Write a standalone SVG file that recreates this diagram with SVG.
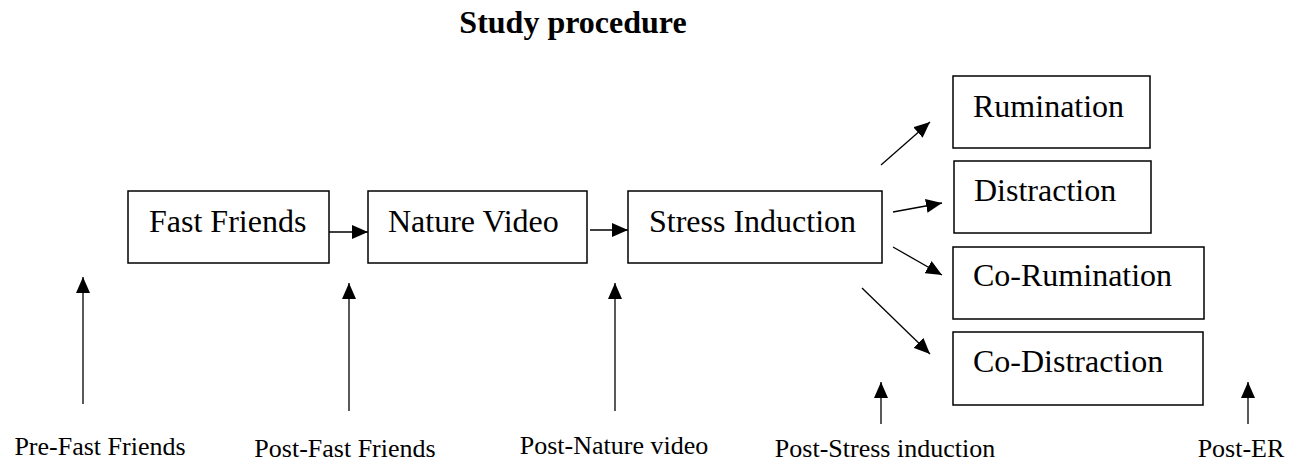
<svg xmlns="http://www.w3.org/2000/svg" width="1300" height="464" viewBox="0 0 1300 464">
  <style>
    .box { fill: #fff; stroke: #000; stroke-width: 1.5; }
    .lbl { font-family: "Liberation Serif", "Times New Roman", serif; font-size: 32px; fill: #000; }
    .cap { font-family: "Liberation Serif", "Times New Roman", serif; font-size: 26px; fill: #000; text-anchor: middle; }
    .title { font-family: "Liberation Serif", "Times New Roman", serif; font-size: 32px; font-weight: bold; fill: #000; text-anchor: middle; }
    .conn line { stroke: #000; stroke-width: 1.3; fill: none; marker-end: url(#ah); }
  </style>
  <defs>
    <marker id="ah" viewBox="0 0 16 14" refX="16" refY="7" markerWidth="16" markerHeight="14" markerUnits="userSpaceOnUse" orient="auto">
      <path d="M0,0 L16,7 L0,14 Z" fill="#000"/>
    </marker>
  </defs>
  <rect width="1300" height="464" fill="#fff"/>
  <text class="title" x="573" y="33">Study procedure</text>

  <g id="fast-friends"><rect class="box" x="128" y="191" width="201" height="72"/><text class="lbl" x="149" y="232">Fast Friends</text></g>
  <g id="nature-video"><rect class="box" x="368" y="191" width="219" height="72"/><text class="lbl" x="388" y="232">Nature Video</text></g>
  <g id="stress-induction"><rect class="box" x="628" y="191" width="254" height="72"/><text class="lbl" x="649" y="232">Stress Induction</text></g>
  <g id="rumination"><rect class="box" x="953" y="76" width="197" height="72"/><text class="lbl" x="973" y="117">Rumination</text></g>
  <g id="distraction"><rect class="box" x="954" y="161" width="197" height="72"/><text class="lbl" x="974" y="201">Distraction</text></g>
  <g id="co-rumination"><rect class="box" x="953" y="247" width="251" height="72"/><text class="lbl" x="973" y="286">Co-Rumination</text></g>
  <g id="co-distraction"><rect class="box" x="953" y="332" width="250" height="73"/><text class="lbl" x="973" y="372">Co-Distraction</text></g>

  <g id="time-labels">
    <text class="cap" x="100" y="455">Pre-Fast Friends</text>
    <text class="cap" x="345" y="457">Post-Fast Friends</text>
    <text class="cap" x="614" y="454">Post-Nature video</text>
    <text class="cap" x="885" y="457">Post-Stress induction</text>
    <text class="cap" x="1241" y="457">Post-ER</text>
  </g>

  <g id="connectors" class="conn">
    <line x1="329" y1="232" x2="368" y2="232"/>
    <line x1="590" y1="230" x2="628" y2="230"/>
    <line x1="881" y1="165" x2="930" y2="122"/>
    <line x1="893" y1="212" x2="942" y2="203"/>
    <line x1="893" y1="247" x2="942" y2="275"/>
    <line x1="862" y1="288" x2="930" y2="354"/>
    <line x1="83" y1="404" x2="83" y2="277"/>
    <line x1="349" y1="411" x2="349" y2="283"/>
    <line x1="615" y1="411" x2="615" y2="283"/>
    <line x1="881" y1="424" x2="881" y2="382"/>
    <line x1="1248" y1="424" x2="1248" y2="382"/>
  </g>
</svg>
